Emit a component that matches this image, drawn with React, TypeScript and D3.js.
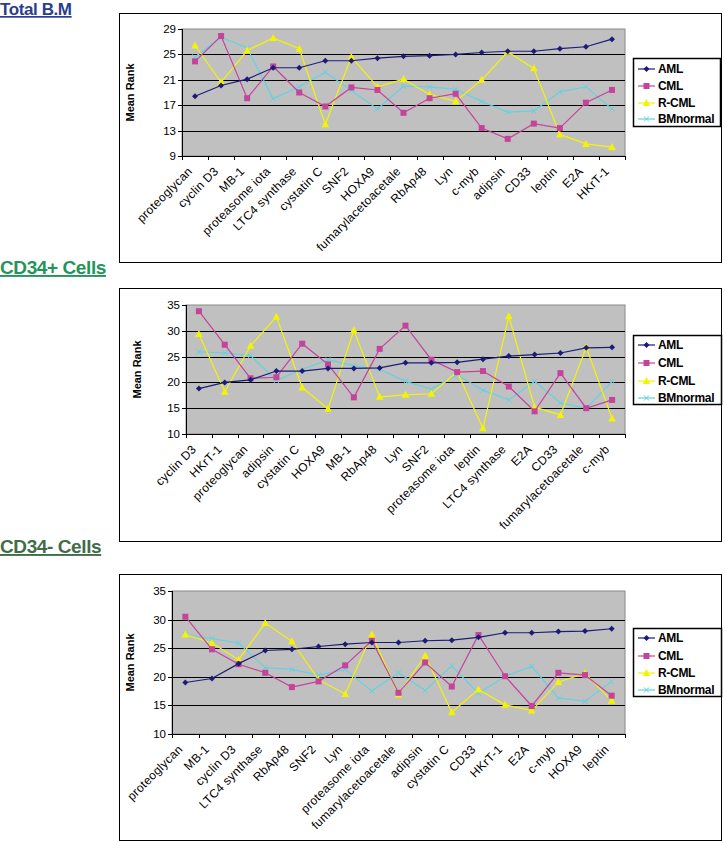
import React from "react";
import * as d3 from "d3";

const SERIES_NAMES = ["AML", "CML", "R-CML", "BMnormal"];

// ---- Chart 1: Total B.M ----
const CATS_1 = ["proteoglycan", "cyclin D3", "MB-1", "proteasome iota", "LTC4 synthase", "cystatin C", "SNF2", "HOXA9", "fumarylacetoacetale", "RbAp48", "Lyn", "c-myb", "adipsin", "CD33", "leptin", "E2A", "HKrT-1"];
const AML_1 = [18.4, 20.1, 21.1, 22.9, 22.9, 24.0, 24.0, 24.4, 24.7, 24.8, 25.0, 25.3, 25.5, 25.5, 25.9, 26.2, 27.4];
const CML_1 = [23.9, 27.9, 18.1, 23.1, 19.0, 16.8, 19.8, 19.4, 15.8, 18.1, 18.8, 13.4, 11.7, 14.1, 13.4, 17.4, 19.4];
const RCML_1 = [26.4, 20.6, 25.6, 27.6, 25.9, 14.0, 24.6, 19.9, 21.1, 18.7, 17.6, 21.0, 25.4, 22.8, 12.4, 10.9, 10.4];
const BM_1 = [24.6, 27.7, 26.0, 18.0, 19.9, 22.2, 19.3, 16.4, 20.0, 19.9, 19.5, 17.6, 15.9, 16.1, 19.1, 19.9, 16.4];
const YTICKS_1 = [9, 13, 17, 21, 25, 29];

// ---- Chart 2: CD34+ Cells ----
const CATS_2 = ["cyclin D3", "HKrT-1", "proteoglycan", "adipsin", "cystatin C", "HOXA9", "MB-1", "RbAp48", "Lyn", "SNF2", "proteasome iota", "leptin", "LTC4 synthase", "E2A", "CD33", "fumarylacetoacetale", "c-myb"];
const AML_2 = [18.8, 20.0, 20.5, 22.2, 22.2, 22.7, 22.7, 22.8, 23.8, 23.8, 23.9, 24.5, 25.1, 25.4, 25.7, 26.7, 26.8];
const CML_2 = [33.8, 27.3, 20.8, 21.0, 27.5, 23.5, 17.1, 26.5, 31.0, 24.4, 22.0, 22.2, 19.2, 14.4, 21.8, 15.0, 16.6];
const RCML_2 = [29.4, 18.2, 27.1, 32.7, 19.0, 14.9, 30.1, 17.2, 17.6, 17.8, 22.0, 11.1, 32.8, 15.2, 13.7, 26.8, 13.0];
const BM_2 = [25.9, 25.7, 25.2, 20.4, 22.5, 24.4, 23.2, 22.5, 20.2, 18.7, 21.5, 18.5, 16.6, 20.2, 16.0, 15.0, 20.2];
const YTICKS_2 = [10, 15, 20, 25, 30, 35];

// ---- Chart 3: CD34- Cells ----
const CATS_3 = ["proteoglycan", "MB-1", "cyclin D3", "LTC4 synthase", "RbAp48", "SNF2", "Lyn", "proteasome iota", "fumarylacetoacetale", "adipsin", "cystatin C", "CD33", "HKrT-1", "E2A", "c-myb", "HOXA9", "leptin"];
const AML_3 = [19.0, 19.7, 22.3, 24.6, 24.8, 25.3, 25.7, 26.0, 26.0, 26.3, 26.4, 26.9, 27.7, 27.7, 27.9, 28.0, 28.4];
const CML_3 = [30.5, 24.8, 22.2, 20.7, 18.2, 19.2, 22.0, 26.3, 17.2, 22.5, 18.3, 27.3, 20.1, 14.9, 20.7, 20.3, 16.7];
const RCML_3 = [27.4, 25.9, 23.0, 29.4, 26.2, 19.5, 17.0, 27.4, 16.9, 23.7, 13.8, 17.8, 15.1, 14.1, 19.1, 20.6, 15.8];
const BM_3 = [27.4, 26.7, 25.9, 21.6, 21.3, 20.3, 21.3, 17.5, 20.7, 17.6, 21.9, 17.1, 20.1, 21.8, 16.3, 15.7, 19.2];
const YTICKS_3 = [10, 15, 20, 25, 30, 35];

const TITLES = ["Total B.M", "CD34+ Cells", "CD34- Cells"];

const COLORS = ["#1c1c78", "#c4449c", "#f4f400", "#62d2e2"];
const FONT = "'Liberation Sans', Arial, Helvetica, sans-serif";

function Marker({ kind, x, y, color }: { kind: number; x: number; y: number; color: string }) {
  if (kind === 0) {
    const s = 3;
    return <path d={`M${x},${y - s}L${x + s},${y}L${x},${y + s}L${x - s},${y}Z`} fill={color} />;
  }
  if (kind === 1) {
    return <rect x={x - 3} y={y - 3} width={6} height={6} fill={color} />;
  }
  if (kind === 2) {
    return <path d={`M${x},${y - 4}L${x + 3.8},${y + 3}L${x - 3.8},${y + 3}Z`} fill={color} />;
  }
  const s = 2.6;
  return (
    <path d={`M${x - s},${y - s}L${x + s},${y + s}M${x - s},${y + s}L${x + s},${y - s}`} stroke={color} strokeWidth={1} fill="none" />
  );
}

type ChartProps = {
  box: [number, number, number, number];
  plot: [number, number, number, number];
  cats: string[];
  series: number[][];
  yTicks: number[];
  legend: [number, number, number, number];
  legendRows: number[];
  ylabelX: number;
};

function Chart({ box, plot, cats, series, yTicks, legend, legendRows, ylabelX }: ChartProps) {
  const [pl, pt, pr, pb] = plot;
  const x = d3.scaleBand<string>().domain(cats).range([pl, pr]).padding(0);
  const y = d3.scaleLinear().domain([yTicks[0], yTicks[yTicks.length - 1]]).range([pb, pt]);
  const line = d3
    .line<number>()
    .x((_, i) => (x(cats[i]) as number) + x.bandwidth() / 2)
    .y((v) => y(v));
  const order = [3, 2, 1, 0];
  return (
    <g>
      <rect x={box[0] + 0.5} y={box[1] + 0.5} width={box[2] - box[0]} height={box[3] - box[1]} fill="#fff" stroke="#000" strokeWidth={1} />
      <rect x={pl} y={pt} width={pr - pl} height={pb - pt} fill="#c0c0c0" stroke="#8a8a8a" strokeWidth={1} />
      {yTicks.slice(1, -1).map((t) => (
        <line key={t} x1={pl} x2={pr} y1={Math.round(y(t)) + 0.5} y2={Math.round(y(t)) + 0.5} stroke="#000" strokeWidth={1} />
      ))}
      {/* y axis */}
      <line x1={pl + 0.5} x2={pl + 0.5} y1={pt} y2={pb} stroke="#000" />
      {yTicks.map((t) => (
        <g key={t}>
          <line x1={pl - 4} x2={pl} y1={Math.round(y(t)) + 0.5} y2={Math.round(y(t)) + 0.5} stroke="#000" />
          <text x={pl - 6} y={y(t)} dy="0.35em" textAnchor="end" fontSize={11.5} fontFamily={FONT} fill="#000">
            {t}
          </text>
        </g>
      ))}
      <text
        transform={`translate(${ylabelX},${(pt + pb) / 2}) rotate(-90)`}
        textAnchor="middle"
        fontSize={11}
        fontWeight="bold"
        fontFamily={FONT}
        fill="#000"
      >
        Mean Rank
      </text>
      {/* x axis */}
      <line x1={pl} x2={pr} y1={pb + 0.5} y2={pb + 0.5} stroke="#000" />
      {cats.concat([""]).map((c, i) => {
        const xx = Math.round(pl + i * x.bandwidth()) + 0.5;
        return <line key={"t" + i} x1={xx} x2={xx} y1={pb} y2={pb + 4} stroke="#000" />;
      })}
      {cats.map((c) => {
        const cx = (x(c) as number) + x.bandwidth() / 2;
        return (
          <text
            key={c}
            transform={`translate(${cx - 2},${pb + 16}) rotate(-45)`}
            textAnchor="end"
            fontSize={12}
            letterSpacing={0.3}
            fontFamily={FONT}
            fill="#000"
          >
            {c}
          </text>
        );
      })}
      {/* series */}
      {order.map((si) => (
        <g key={si}>
          <path d={line(series[si]) as string} fill="none" stroke={COLORS[si]} strokeWidth={1.2} />
          {series[si].map((v, i) => (
            <Marker key={i} kind={si} x={(x(cats[i]) as number) + x.bandwidth() / 2} y={y(v)} color={COLORS[si]} />
          ))}
        </g>
      ))}
      {/* legend */}
      <rect x={legend[0] + 0.5} y={legend[1] + 0.5} width={legend[2] - legend[0]} height={legend[3] - legend[1]} fill="#fff" stroke="#000" strokeWidth={1.5} />
      {SERIES_NAMES.map((n, i) => (
        <g key={n}>
          <line x1={legend[0] + 5} x2={legend[0] + 22} y1={legendRows[i]} y2={legendRows[i]} stroke={COLORS[i]} strokeWidth={1.2} />
          <Marker kind={i} x={legend[0] + 13.5} y={legendRows[i]} color={COLORS[i]} />
          <text x={legend[0] + 25} y={legendRows[i]} dy="0.36em" fontSize={12} fontWeight="bold" fontFamily={FONT} fill="#000" letterSpacing={-0.3}>
            {n}
          </text>
        </g>
      ))}
    </g>
  );
}

export default function App() {
  return (
    <svg width={725} height={842} style={{ position: "absolute", left: 0, top: 0, background: "#fff" }}>
      <text x={0} y={15} fontSize={17} fontWeight="bold" fontFamily={FONT} fill="#2b3d8f" textDecoration="underline" letterSpacing={-0.4}>
        {TITLES[0]}
      </text>
      <text x={0} y={274} fontSize={19} fontWeight="bold" fontFamily={FONT} fill="#23955a" textDecoration="underline" letterSpacing={-0.4}>
        {TITLES[1]}
      </text>
      <text x={0} y={553} fontSize={19} fontWeight="bold" fontFamily={FONT} fill="#3f6d48" textDecoration="underline" letterSpacing={-0.4}>
        {TITLES[2]}
      </text>
      <Chart
        box={[119, 13, 721, 262]}
        plot={[182, 29, 625, 156]}
        cats={CATS_1}
        series={[AML_1, CML_1, RCML_1, BM_1]}
        yTicks={YTICKS_1}
        legend={[633, 58, 720, 126]}
        legendRows={[69, 86, 103, 119]}
        ylabelX={134}
      />
      <Chart
        box={[119, 288, 721, 541]}
        plot={[186, 305, 625, 434]}
        cats={CATS_2}
        series={[AML_2, CML_2, RCML_2, BM_2]}
        yTicks={YTICKS_2}
        legend={[633, 335, 721, 404]}
        legendRows={[345, 363, 381, 398]}
        ylabelX={141}
      />
      <Chart
        box={[119, 574, 721, 840]}
        plot={[172, 591, 625, 734]}
        cats={CATS_3}
        series={[AML_3, CML_3, RCML_3, BM_3]}
        yTicks={YTICKS_3}
        legend={[633, 628, 721, 696]}
        legendRows={[638, 656, 673, 690]}
        ylabelX={134}
      />
    </svg>
  );
}
